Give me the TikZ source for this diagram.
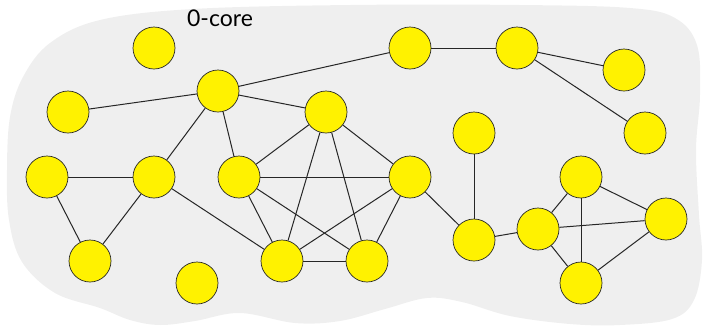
\documentclass[tikz,border=0pt]{standalone}
\usepackage{fontspec}
\setmainfont{Lato}
\definecolor{regionfill}{HTML}{EFEFEF}
\begin{document}
\begin{tikzpicture}[x=1pt,y=-1pt,
  vtx/.style={circle,draw=black!85,line width=0.7pt,fill=yellow,minimum size=42pt,inner sep=0pt},
  edge/.style={draw=black!85,line width=1pt}]
\useasboundingbox (0,0) rectangle (705,325);
% region holding the whole graph
\fill[regionfill] plot[smooth cycle,tension=0.6] coordinates {
  (7,170) (10,117) (23,77) (50,43) (100,20) (193,9) (350,5) (520,5)
  (630,8) (675,18) (697,45) (700,95) (696,150) (699,215) (702,260)
  (694,300) (672,319) (620,325) (570,324) (510,316) (462,302) (427,298)
  (385,309) (340,321) (295,323) (240,313) (195,321) (160,325) (130,320)
  (100,308) (55,293) (22,262) (9,220)};
\node[font=\fontsize{23}{25}\selectfont] (lbl) at (220,18) {0-core};
% vertices
\node[vtx] (a) at (154,48) {};
\node[vtx] (b) at (218,91) {};
\node[vtx] (c) at (68,112) {};
\node[vtx] (d) at (326,112) {};
\node[vtx] (e) at (410,48) {};
\node[vtx] (f) at (517,48) {};
\node[vtx] (g) at (624,70) {};
\node[vtx] (h) at (645,133) {};
\node[vtx] (i) at (474,133) {};
\node[vtx] (j) at (47,177) {};
\node[vtx] (k) at (154,177) {};
\node[vtx] (l) at (239,177) {};
\node[vtx] (m) at (410,177) {};
\node[vtx] (n) at (90,261) {};
\node[vtx] (o) at (197,283) {};
\node[vtx] (p) at (282,261) {};
\node[vtx] (q) at (367,261) {};
\node[vtx] (r) at (474,240) {};
\node[vtx] (s) at (538,229) {};
\node[vtx] (t) at (581,177) {};
\node[vtx] (u) at (666,219) {};
\node[vtx] (v) at (581,283) {};
% edges
\foreach \x/\y in {b/c,b/e,b/d,b/k,b/l,e/f,f/g,f/h,
  d/l,d/p,d/q,d/m,l/m,l/p,l/q,m/p,m/q,p/q,
  j/k,j/n,k/n,k/p,m/r,i/r,r/s,s/t,s/u,s/v,t/u,t/v,u/v}
  \draw[edge] (\x) -- (\y);
\end{tikzpicture}
\end{document}
